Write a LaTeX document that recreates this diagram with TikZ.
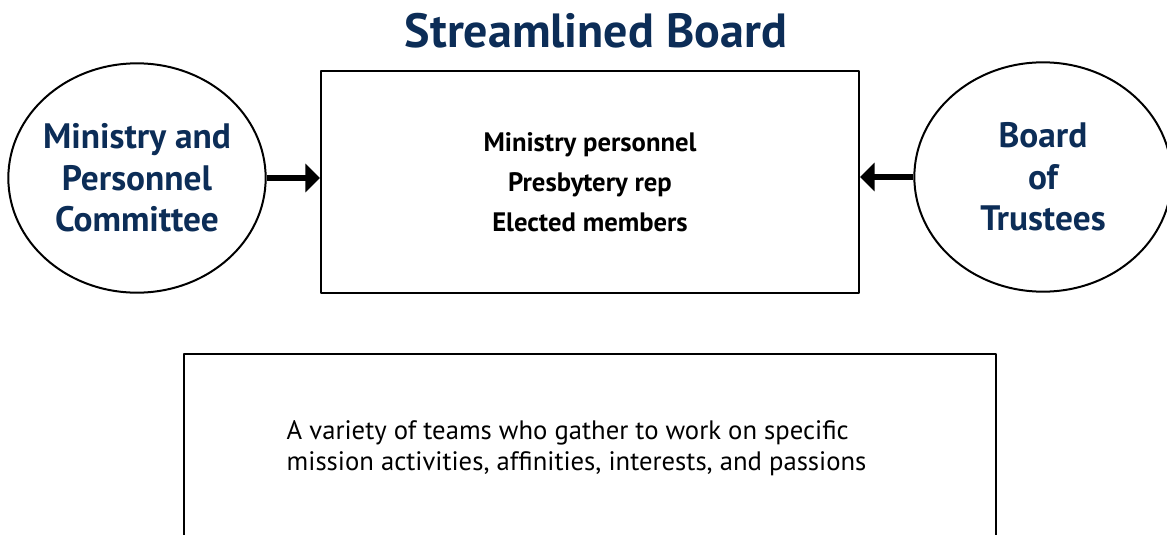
\documentclass[tikz,border=0pt]{standalone}
\usepackage{fontspec}
\setmainfont{PT Sans}
\usetikzlibrary{arrows.meta,shapes.geometric}
\definecolor{boardblue}{RGB}{12,45,87}

\tikzset{
  group/.style={draw,ellipse,line width=1.5pt,inner sep=-20pt,
    minimum width=193pt,minimum height=172pt,align=center,
    text=boardblue,font=\bfseries\fontsize{26.5}{31}\selectfont},
  feed/.style={-{Triangle[length=11pt,width=21pt]},line width=4.5pt,line cap=butt}
}

\begin{document}
\begin{tikzpicture}[line cap=round,line join=round,x=0.75pt,y=-0.75pt]
\useasboundingbox (0,0) rectangle (1167,535);
% title
\node (title) at (596,31) {\textcolor{boardblue}{\bfseries\fontsize{36}{40}\selectfont Streamlined Board}};
% the board itself
\node (board) [draw,line width=1.5pt,minimum width=403.5pt,minimum height=166.5pt,
  align=center,font=\bfseries\fontsize{20}{30}\selectfont] at (590,182)
  {Ministry personnel\\Presbytery rep\\Elected members};
% committees feeding it
\node (mpc) [group] at (137,178) {Ministry and\\Personnel\\Committee};
\node (trust) [group] at (1043,177) {Board\\of\\Trustees};
\draw [feed] (mpc.east) -- (mpc.east -| board.west);
\draw [feed] (trust.west) -- (trust.west -| board.east);
% teams box, open at the bottom
\draw [line width=1.5pt,line cap=butt] (184,545) -- (184,354) -- (996,354) -- (996,545);
\node (teams) [anchor=west,align=left,font=\fontsize{20}{23.25}\selectfont] at (282,448)
  {A variety of teams who gather to work on specific\\mission activities, affinities, interests, and passions};
\end{tikzpicture}
\end{document}
